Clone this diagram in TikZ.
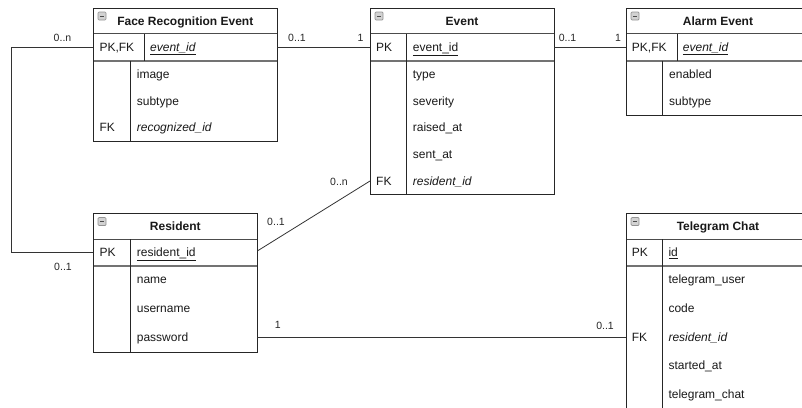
\documentclass[tikz,border=0pt]{standalone}
\usepackage{fontspec}
\setmainfont{Liberation Sans}
\begin{document}
\begin{tikzpicture}[x=1pt,y=-1pt,
  tbl/.style={draw=black!85, line width=0.9pt, inner sep=0, anchor=north west},
  hdr/.style={font=\bfseries\fontsize{12}{14}\selectfont, inner sep=0, anchor=base, text=black!90},
  fld/.style={font=\fontsize{12}{14}\selectfont, inner sep=0, anchor=base west, text=black!90},
  lbl/.style={font=\fontsize{10.5}{12}\selectfont, inner sep=0, text=black!85},
  conn/.style={draw=black!80, line width=0.8pt},
  sepline/.style={draw=black!55, line width=1.6pt},
  hsep/.style={draw=black!70, line width=0.8pt},
  colsep/.style={draw=black!85, line width=0.8pt},
  iconbox/.style={draw=gray!85, fill=gray!35, line width=0.7pt, rounded corners=1pt},
  iconbar/.style={draw=black!70, line width=1pt}
]
\useasboundingbox (0,0) rectangle (802,407);
\clip (0,0) rectangle (802,407);

% ---------- Face Recognition Event ----------
\draw[hsep] (93.3,33.5) -- (277.3,33.5);
\draw[sepline] (93.3,60.7) -- (277.3,60.7);
\draw[colsep] (144.3,33.5) -- (144.3,60.7);
\draw[colsep] (130,60.7) -- (130,140.7);
\node[tbl, minimum width=184pt, minimum height=133.2pt] (face) at (93.3,7.5) {};
\draw[iconbox] (98,12) rectangle (106,20);
\draw[iconbar] (99.8,16) -- (104.2,16);
\node[hdr] (faceh) at (185.3,25.5) {Face Recognition Event};
\node[fld] (facek1) at (99.3,51.6) {PK,FK};
\node[fld] (facef1) at (150,51.6) {\underline{\itshape event\_id}};
\node[fld] (facef2) at (136.7,78.3) {image};
\node[fld] (facef3) at (136.7,105) {subtype};
\node[fld] (facek4) at (99.3,131.6) {FK};
\node[fld] (facef4) at (136.7,131.6) {\itshape recognized\_id};
\coordinate (facePKL) at (93.3,47.3);
\coordinate (facePKR) at (277.3,47.3);

% ---------- Event ----------
\draw[hsep] (370,33.5) -- (554,33.5);
\draw[sepline] (370,60.7) -- (554,60.7);
\draw[colsep] (406.7,33.5) -- (406.7,194);
\node[tbl, minimum width=184pt, minimum height=186.5pt] (event) at (370,7.5) {};
\draw[iconbox] (375,12) rectangle (383,20);
\draw[iconbar] (376.8,16) -- (381.2,16);
\node[hdr] (eventh) at (462,25.5) {Event};
\node[fld] (eventk1) at (376,51.6) {PK};
\node[fld] (eventf1) at (412.7,51.6) {\underline{event\_id}};
\node[fld] (eventf2) at (412.7,78.3) {type};
\node[fld] (eventf3) at (412.7,105) {severity};
\node[fld] (eventf4) at (412.7,131.6) {raised\_at};
\node[fld] (eventf5) at (412.7,158.3) {sent\_at};
\node[fld] (eventk6) at (376,185) {FK};
\node[fld] (eventf6) at (412.7,185) {\itshape resident\_id};
\coordinate (eventPKL) at (370,47.3);
\coordinate (eventPKR) at (554,47.3);
\coordinate (eventFKL) at (370,181);

% ---------- Alarm Event ----------
\draw[hsep] (626,33.5) -- (810,33.5);
\draw[sepline] (626,60.7) -- (810,60.7);
\draw[colsep] (677,33.5) -- (677,60.7);
\draw[colsep] (662.7,60.7) -- (662.7,115);
\node[tbl, minimum width=184pt, minimum height=107.5pt] (alarm) at (626,7.5) {};
\draw[iconbox] (631,12) rectangle (639,20);
\draw[iconbar] (632.8,16) -- (637.2,16);
\node[hdr] (alarmh) at (718,25.5) {Alarm Event};
\node[fld] (alarmk1) at (631.7,51.6) {PK,FK};
\node[fld] (alarmf1) at (682.7,51.6) {\underline{\itshape event\_id}};
\node[fld] (alarmf2) at (669,78.3) {enabled};
\node[fld] (alarmf3) at (669,105) {subtype};
\coordinate (alarmPKL) at (626,47.3);

% ---------- Resident ----------
\draw[hsep] (93.3,239) -- (257.3,239);
\draw[sepline] (93.3,265.7) -- (257.3,265.7);
\draw[colsep] (130,239) -- (130,351.7);
\node[tbl, minimum width=164pt, minimum height=139pt] (res) at (93.3,212.7) {};
\draw[iconbox] (98,217.5) rectangle (106,225.5);
\draw[iconbar] (99.8,221.5) -- (104.2,221.5);
\node[hdr] (resh) at (175.3,230) {Resident};
\node[fld] (resk1) at (99.3,256.6) {PK};
\node[fld] (resf1) at (136.7,256.6) {\underline{resident\_id}};
\node[fld] (resf2) at (136.7,283.6) {name};
\node[fld] (resf3) at (136.7,312.3) {username};
\node[fld] (resf4) at (136.7,341) {password};
\coordinate (resPKL) at (93.3,252.3);
\coordinate (resPKR) at (257.3,251);
\coordinate (resPWR) at (257.3,337.3);

% ---------- Telegram Chat ----------
\draw[hsep] (626,239) -- (810,239);
\draw[sepline] (626,265.7) -- (810,265.7);
\draw[colsep] (662.7,239) -- (662.7,420);
\node[tbl, minimum width=184pt, minimum height=207.3pt] (tele) at (626,212.7) {};
\draw[iconbox] (631,217.5) rectangle (639,225.5);
\draw[iconbar] (632.8,221.5) -- (637.2,221.5);
\node[hdr] (teleh) at (718,230) {Telegram Chat};
\node[fld] (telek1) at (631.7,256.6) {PK};
\node[fld] (telef1) at (668.3,256.6) {\underline{id}};
\node[fld] (telef2) at (668.3,283.6) {telegram\_user};
\node[fld] (telef3) at (668.3,312.3) {code};
\node[fld] (telek4) at (631.7,341) {FK};
\node[fld] (telef4) at (668.3,341) {\itshape resident\_id};
\node[fld] (telef5) at (668.3,369.6) {started\_at};
\node[fld] (telef6) at (668.3,398.3) {telegram\_chat};
\coordinate (teleFKL) at (626,337.3);

% ---------- Connectors ----------
\coordinate (bendA) at (11.7,47.3);
\draw[conn] (facePKL) -- (bendA) |- (resPKL);
\draw[conn] (facePKR) -- (eventPKL);
\draw[conn] (eventPKR) -- (alarmPKL);
\draw[conn] (resPKR) -- (eventFKL);
\draw[conn] (resPWR) -- (teleFKL);

% ---------- Cardinality labels ----------
\node[lbl] (l1) at (62.5,38) {0..n};
\node[lbl] (l2) at (63,266.5) {0..1};
\node[lbl] (l3) at (297,37.5) {0..1};
\node[lbl] (l4) at (360.5,38) {1};
\node[lbl] (l5) at (567.5,37.5) {0..1};
\node[lbl] (l6) at (618,38) {1};
\node[lbl] (l7) at (276,222) {0..1};
\node[lbl] (l8) at (339,181.5) {0..n};
\node[lbl] (l9) at (277.7,325) {1};
\node[lbl] (l10) at (605,325.5) {0..1};
\end{tikzpicture}
\end{document}
